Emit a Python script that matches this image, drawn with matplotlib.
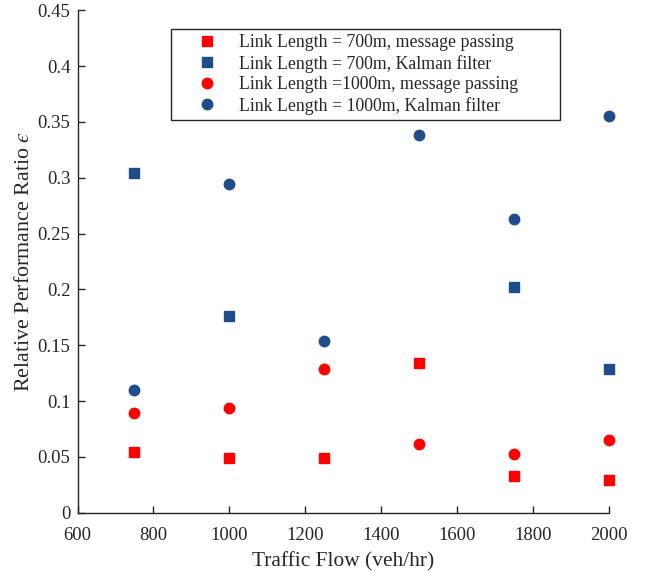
import numpy as np
import matplotlib
matplotlib.use("Agg")
import matplotlib.pyplot as plt

plt.rcParams['font.family'] = ['Liberation Serif', 'DejaVu Serif']
plt.rcParams['mathtext.fontset'] = 'stix'

# Traffic flow levels (veh/hr)
flow = [750, 1000, 1250, 1500, 1750, 2000]

# Relative performance ratio for each configuration
mp_700 = [0.054, 0.049, 0.049, 0.134, 0.033, 0.029]
kf_700 = [0.304, 0.176, np.nan, np.nan, 0.202, 0.129]
mp_1000 = [0.089, 0.094, 0.129, 0.062, 0.053, 0.065]
kf_1000 = [0.110, 0.294, 0.154, 0.338, 0.263, 0.355]

labels = [
    "Link Length = 700m, message passing",
    "Link Length = 700m, Kalman filter",
    "Link Length =1000m, message passing",
    "Link Length = 1000m, Kalman filter",
]

x_ticks = [600, 800, 1000, 1200, 1400, 1600, 1800, 2000]
y_ticks = [0, 0.05, 0.1, 0.15, 0.2, 0.25, 0.3, 0.35, 0.4, 0.45]
y_tick_labels = ["0", "0.05", "0.1", "0.15", "0.2", "0.25", "0.3", "0.35", "0.4", "0.45"]

red = "#ff0000"
blue = "#1f4d8a"
ink = "#262626"

fig = plt.figure(figsize=(6.46, 5.71), dpi=100)
ax = fig.add_axes([0.12, 0.102, 0.8223, 0.880])

ax.plot(flow, mp_700, linestyle="none", marker="s", ms=6.5, color=red, label=labels[0], clip_on=False)
ax.plot(flow, kf_700, linestyle="none", marker="s", ms=6.5, color=blue, label=labels[1], clip_on=False)
ax.plot(flow, mp_1000, linestyle="none", marker="o", ms=7.5, color=red, label=labels[2], clip_on=False)
ax.plot(flow, kf_1000, linestyle="none", marker="o", ms=7.5, color=blue, label=labels[3], clip_on=False)

ax.set_xlim(600, 2000)
ax.set_ylim(0, 0.45)
ax.set_xticks(x_ticks)
ax.set_xticklabels([str(v) for v in x_ticks])
ax.set_yticks(y_ticks)
ax.set_yticklabels(y_tick_labels)

for side in ("top", "right"):
    ax.spines[side].set_visible(False)
for side in ("left", "bottom"):
    ax.spines[side].set_color(ink)
    ax.spines[side].set_linewidth(1.0)

ax.tick_params(direction="in", length=5, width=1.0, colors=ink, labelsize=13.5)
ax.tick_params(axis="y", pad=5)
ax.tick_params(axis="x", pad=10)

ax.set_xlabel("Traffic Flow (veh/hr)", fontsize=15.4, color=ink, labelpad=6)
ax.set_ylabel("Relative Performance Ratio $\u03f5$", fontsize=15.8, color=ink, labelpad=3)

leg = ax.legend(loc="upper left", bbox_to_anchor=(0.176, 0.5, 0.732, 0.463),
                mode="expand", fontsize=12.8,
                frameon=True, fancybox=False, edgecolor=ink, framealpha=1,
                handletextpad=0.0, borderpad=0.3, labelspacing=0.2,
                handlelength=3.5, borderaxespad=0)
leg.get_frame().set_linewidth(1.0)
for t in leg.get_texts():
    t.set_color(ink)

fig.savefig("out.png", dpi=100)
